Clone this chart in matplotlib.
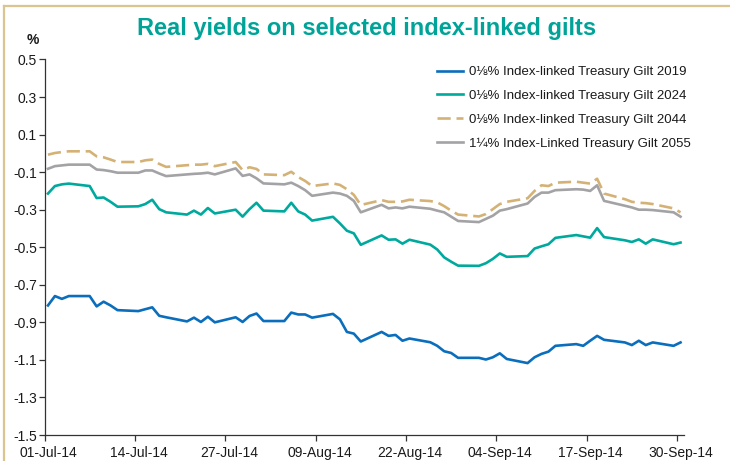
import matplotlib
matplotlib.use("Agg")
import matplotlib.pyplot as plt
import matplotlib.dates as mdates
import matplotlib.transforms as mtransforms
from matplotlib.lines import Line2D
import pandas as pd

plt.rcParams['font.family'] = ['Liberation Sans', 'DejaVu Sans']
plt.rcParams['axes.unicode_minus'] = False

dates = (
    ["2014-07-%02d" % d for d in [1, 2, 3, 4, 7, 8, 9, 10, 11, 14, 15, 16, 17, 18, 21, 22, 23, 24, 25, 28, 29, 30, 31]]
    + ["2014-08-%02d" % d for d in [1, 4, 5, 6, 7, 8, 11, 12, 13, 14, 15, 18, 19, 20, 21, 22, 25, 26, 27, 28, 29]]
    + ["2014-09-%02d" % d for d in [1, 2, 3, 4, 5, 8, 9, 10, 11, 12, 15, 16, 17, 18, 19, 22, 23, 24, 25, 26, 29, 30]]
)

gilt_2019 = [
    -0.81, -0.76, -0.775, -0.76, -0.76, -0.815, -0.79, -0.81, -0.835, -0.84, -0.83, -0.82, -0.865, -0.873, -0.895, -0.875, -0.898, -0.87, -0.9, -0.873, -0.898, -0.866, -0.853,
    -0.893, -0.893, -0.848, -0.858, -0.858, -0.875, -0.855, -0.884, -0.951, -0.96, -1.002, -0.951, -0.972, -0.967, -0.998, -0.986, -1.006, -1.025, -1.054, -1.063, -1.089,
    -1.089, -1.098, -1.086, -1.065, -1.095, -1.117, -1.086, -1.068, -1.056, -1.025, -1.016, -1.025, -0.998, -0.972, -0.993, -1.007, -1.021, -0.998, -1.021, -1.007, -1.025, -1.007,
]
gilt_2024 = [
    -0.214, -0.174, -0.165, -0.161, -0.174, -0.238, -0.235, -0.258, -0.284, -0.282, -0.27, -0.247, -0.297, -0.314, -0.326, -0.305, -0.326, -0.291, -0.32, -0.3, -0.337, -0.297, -0.263,
    -0.305, -0.309, -0.263, -0.309, -0.326, -0.358, -0.338, -0.373, -0.412, -0.426, -0.487, -0.437, -0.46, -0.458, -0.481, -0.46, -0.486, -0.512, -0.554, -0.577, -0.598,
    -0.599, -0.585, -0.562, -0.533, -0.551, -0.547, -0.507, -0.495, -0.484, -0.45, -0.435, -0.442, -0.449, -0.398, -0.446, -0.463, -0.472, -0.458, -0.481, -0.458, -0.484, -0.475,
]
gilt_2044 = [
    -0.007, 0.002, 0.007, 0.011, 0.011, -0.016, -0.021, -0.033, -0.046, -0.046, -0.037, -0.033, -0.056, -0.072, -0.063, -0.06, -0.06, -0.056, -0.068, -0.046, -0.089, -0.074, -0.083,
    -0.112, -0.116, -0.098, -0.126, -0.147, -0.174, -0.16, -0.168, -0.191, -0.221, -0.275, -0.249, -0.258, -0.258, -0.256, -0.247, -0.254, -0.261, -0.281, -0.305, -0.326,
    -0.336, -0.323, -0.297, -0.27, -0.258, -0.239, -0.2, -0.17, -0.174, -0.156, -0.151, -0.156, -0.161, -0.135, -0.214, -0.244, -0.258, -0.263, -0.265, -0.27, -0.293, -0.314,
]
gilt_2055 = [
    -0.082, -0.068, -0.064, -0.06, -0.06, -0.086, -0.089, -0.095, -0.103, -0.103, -0.091, -0.091, -0.107, -0.121, -0.112, -0.109, -0.107, -0.103, -0.112, -0.08, -0.12, -0.112, -0.133,
    -0.16, -0.165, -0.156, -0.174, -0.196, -0.226, -0.209, -0.214, -0.226, -0.253, -0.314, -0.274, -0.293, -0.288, -0.293, -0.284, -0.295, -0.305, -0.314, -0.337, -0.36,
    -0.366, -0.349, -0.332, -0.305, -0.297, -0.267, -0.232, -0.209, -0.209, -0.196, -0.191, -0.193, -0.2, -0.17, -0.253, -0.279, -0.288, -0.3, -0.3, -0.302, -0.314, -0.337,
]

labels = [
    "0\u215b% Index-linked Treasury Gilt 2019",
    "0\u215b% Index-linked Treasury Gilt 2024",
    "0\u215b% Index-linked Treasury Gilt 2044",
    "1\u00bc% Index-Linked Treasury Gilt 2055",
]
tick_dates = ["2014-07-01", "2014-07-14", "2014-07-27", "2014-08-09",
              "2014-08-22", "2014-09-04", "2014-09-17", "2014-09-30"]
y_ticks = [0.5, 0.3, 0.1, -0.1, -0.3, -0.5, -0.7, -0.9, -1.1, -1.3, -1.5]

title = "Real yields on selected index-linked gilts"

x = pd.to_datetime(dates) + pd.Timedelta(hours=12)

fig = plt.figure(figsize=(7.30, 4.61), dpi=100)
ax = fig.add_axes([44.5 / 730, 1 - 435 / 461, (684 - 44.5) / 730, (435 - 59.5) / 461])

ax.plot(x, gilt_2019, color="#0A6EBD", lw=1.9, label=labels[0], solid_joinstyle="round")
ax.plot(x, gilt_2024, color="#00A99D", lw=1.9, label=labels[1], solid_joinstyle="round")
ax.plot(x, gilt_2044, color="#D4B276", lw=1.9, label=labels[2], dashes=(5.0, 2.2))
ax.plot(x, gilt_2055, color="#A3A3A6", lw=1.9, label=labels[3], solid_joinstyle="round")

ax.set_ylim(-1.5, 0.5)
ax.set_yticks(y_ticks)
ax.set_yticklabels(["%.1f" % v for v in y_ticks])
ax.set_xlim(pd.Timestamp("2014-07-01"), pd.Timestamp("2014-10-01"))
ax.set_xticks(pd.to_datetime(tick_dates))
ax.xaxis.set_major_formatter(mdates.DateFormatter("%d-%b-%y"))

for s in ["top", "right"]:
    ax.spines[s].set_visible(False)
for s in ["left", "bottom"]:
    ax.spines[s].set_color("#333333")
    ax.spines[s].set_linewidth(0.9)

ax.tick_params(axis="both", direction="out", length=4, width=0.9, color="#333333",
               labelsize=10, labelcolor="#1a1a1a")
ax.tick_params(axis="y", pad=1.5)
ax.tick_params(axis="x", pad=4)
offset = mtransforms.ScaledTranslation(4 / 100, 0, fig.dpi_scale_trans)
for lab in ax.get_xticklabels():
    lab.set_transform(lab.get_transform() + offset)

leg = ax.legend(loc="upper left", bbox_to_anchor=(437 / 730, 1 - 66 / 461),
                bbox_transform=fig.transFigure, frameon=False, fontsize=9.5,
                handlelength=1.95, handletextpad=0.45, labelspacing=0.88,
                borderpad=0, borderaxespad=0)
for t in leg.get_texts():
    t.set_color("#1a1a1a")

fig.text(367 / 730, 1 - 29 / 461, title, ha="center", va="center",
         fontsize=17, fontweight="bold", color="#00A398")
fig.text(33 / 730, 1 - 40.5 / 461, "%", ha="center", va="center",
         fontsize=10, fontweight="bold", color="#1a1a1a")

border = "#DCC490"
fig.add_artist(Line2D([3.5 / 730, 3.5 / 730], [0, 1 - 6 / 461], transform=fig.transFigure,
                      color=border, lw=1.6))
fig.add_artist(Line2D([3.5 / 730, 1], [1 - 6 / 461, 1 - 6 / 461], transform=fig.transFigure,
                      color=border, lw=1.6))

fig.savefig("out.png", dpi=100)
